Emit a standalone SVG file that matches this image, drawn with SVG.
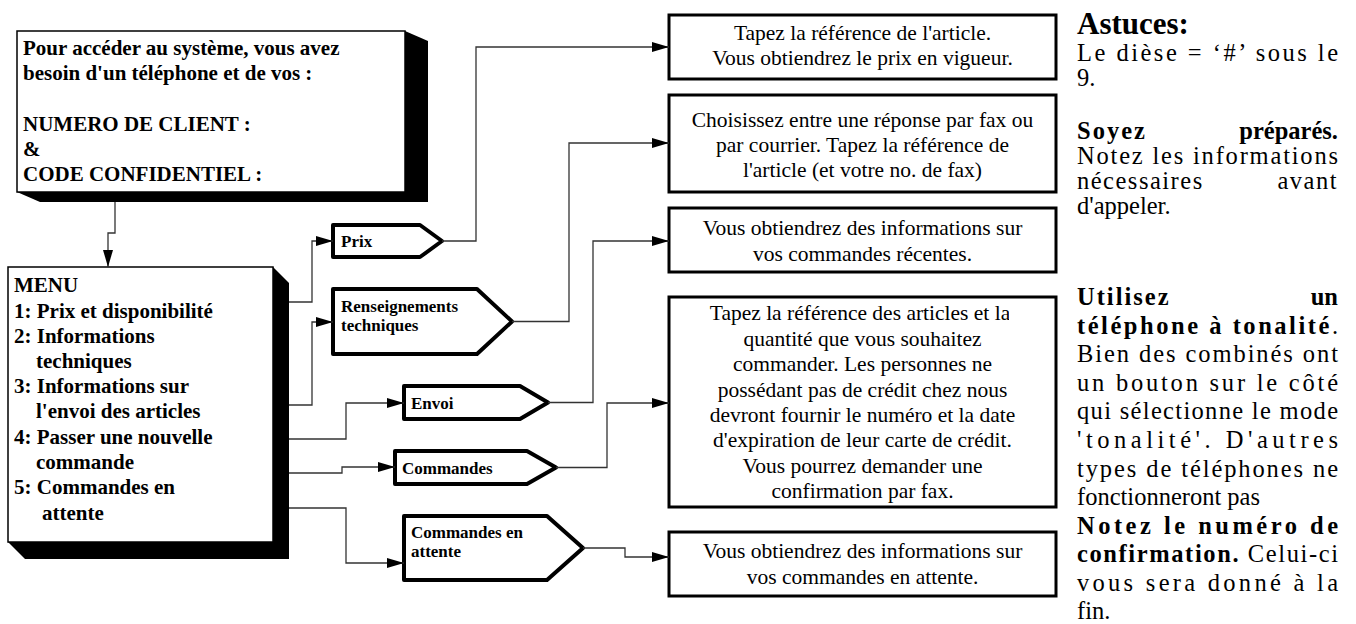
<svg xmlns="http://www.w3.org/2000/svg" width="1356" height="624" viewBox="0 0 1356 624">
<style>
.bg{fill:#fff}
.sh{fill:#000}
.nb{fill:#fff;stroke:#000;stroke-width:1.5}
.pt{fill:#fff;stroke:#000;stroke-width:4;stroke-linejoin:round}
.bx{fill:#fff;stroke:#000;stroke-width:3}
.b{font-family:"Liberation Serif","Times New Roman",serif;font-weight:bold;fill:#000}
.r{font-family:"Liberation Serif","Times New Roman",serif;fill:#000}
.big{font-size:21px}
.lab{font-size:17px}
.bt{font-size:21.5px;text-anchor:middle}
.tp{font-size:24.5px}
.cn{fill:none;stroke:#333;stroke-width:1.3}
</style>
<defs>
<marker id="arr" markerUnits="userSpaceOnUse" markerWidth="17" markerHeight="10" refX="17" refY="5" orient="auto">
<path d="M0,0 L17,5 L0,10 Z" fill="#000"/>
</marker>
<clipPath id="clip4"><rect x="669" y="297" width="340" height="210"/></clipPath>
</defs>
<rect class="bg" x="0" y="0" width="1356" height="624"/>

<g id="access">
<polygon class="sh" points="405,31 428,41 428,202 40,202 17,192"/>
<rect class="nb" x="17" y="31" width="388" height="161"/>
<text class="b big" x="23" y="55">Pour accéder au système, vous avez</text>
<text class="b big" x="23" y="80">besoin d'un téléphone et de vos :</text>
<text class="b big" x="23" y="131">NUMERO DE CLIENT :</text>
<text class="b big" x="23" y="156">&amp;</text>
<text class="b big" x="23" y="181">CODE CONFIDENTIEL :</text>
</g>

<g id="menu">
<polygon class="sh" points="273,267 289,283 289,559 25,559 8,542"/>
<rect class="nb" x="8" y="267" width="265" height="275"/>
<text class="b big" x="14" y="292">MENU</text>
<text class="b big" x="14" y="318">1: Prix et disponibilité</text>
<text class="b big" x="14" y="343">2: Informations</text>
<text class="b big" x="36" y="368">techniques</text>
<text class="b big" x="14" y="393">3: Informations sur</text>
<text class="b big" x="36" y="418">l'envoi des articles</text>
<text class="b big" x="14" y="444">4: Passer une nouvelle</text>
<text class="b big" x="36" y="469">commande</text>
<text class="b big" x="14" y="494">5: Commandes en</text>
<text class="b big" x="42" y="520">attente</text>
</g>

<g id="prix">
<path class="pt" d="M333,225 H420 L442,241 L420,257 H333 Z"/>
<text class="b lab" x="341" y="247">Prix</text>
</g>
<g id="renseignements">
<path class="pt" d="M333,289 H477 L512,321.5 L477,354 H333 Z"/>
<text class="b lab" x="341" y="312">Renseignements</text>
<text class="b lab" x="341" y="331">techniques</text>
</g>
<g id="envoi">
<path class="pt" d="M404,386 H520 L548,402.5 L520,419 H404 Z"/>
<text class="b lab" x="411" y="409">Envoi</text>
</g>
<g id="commandes">
<path class="pt" d="M395,451 H527 L556,467.5 L527,484 H395 Z"/>
<text class="b lab" x="402" y="474">Commandes</text>
</g>
<g id="attente">
<path class="pt" d="M404,516 H547 L583,548 L547,580 H404 Z"/>
<text class="b lab" x="411" y="538">Commandes en</text>
<text class="b lab" x="411" y="557">attente</text>
</g>

<g id="box1">
<rect class="bx" x="669" y="15" width="387" height="64"/>
<text class="r bt" x="862.5" y="40">Tapez la référence de l'article.</text>
<text class="r bt" x="862.5" y="65">Vous obtiendrez le prix en vigueur.</text>
</g>
<g id="box2">
<rect class="bx" x="669" y="95" width="387" height="97"/>
<text class="r bt" x="862.5" y="127">Choisissez entre une réponse par fax ou</text>
<text class="r bt" x="862.5" y="152">par courrier. Tapez la référence de</text>
<text class="r bt" x="862.5" y="177">l'article (et votre no. de fax)</text>
</g>
<g id="box3">
<rect class="bx" x="669" y="208" width="387" height="64"/>
<text class="r bt" x="862.5" y="235">Vous obtiendrez des informations sur</text>
<text class="r bt" x="862.5" y="261">vos commandes récentes.</text>
</g>
<g id="box4">
<rect class="bx" x="669" y="297" width="387" height="210"/>
<g clip-path="url(#clip4)">
<text class="r bt" x="860" y="320">Tapez la référence des articles et la</text>
</g>
<text class="r bt" x="862.5" y="346">quantité que vous souhaitez</text>
<text class="r bt" x="862.5" y="371">commander. Les personnes ne</text>
<text class="r bt" x="862.5" y="397">possédant pas de crédit chez nous</text>
<text class="r bt" x="862.5" y="422">devront fournir le numéro et la date</text>
<text class="r bt" x="862.5" y="447">d'expiration de leur carte de crédit.</text>
<text class="r bt" x="862.5" y="473">Vous pourrez demander une</text>
<text class="r bt" x="862.5" y="498">confirmation par fax.</text>
</g>
<g id="box5">
<rect class="bx" x="669" y="532" width="387" height="64"/>
<text class="r bt" x="862.5" y="558">Vous obtiendrez des informations sur</text>
<text class="r bt" x="862.5" y="584">vos commandes en attente.</text>
</g>

<g id="connectors">
<path class="cn" d="M115,202 V233 H108 V267" marker-end="url(#arr)"/>
<path class="cn" d="M289,302 H312 V241 H333" marker-end="url(#arr)"/>
<path class="cn" d="M289,405 H312 V322 H333" marker-end="url(#arr)"/>
<path class="cn" d="M289,439 H346 V403 H404" marker-end="url(#arr)"/>
<path class="cn" d="M289,473 H342 V467 H395" marker-end="url(#arr)"/>
<path class="cn" d="M289,508 H346 V563 H404" marker-end="url(#arr)"/>
<path class="cn" d="M442,241 H476 V47 H669" marker-end="url(#arr)"/>
<path class="cn" d="M512,321.5 H569 V143 H669" marker-end="url(#arr)"/>
<path class="cn" d="M548,402.5 H593 V241 H669" marker-end="url(#arr)"/>
<path class="cn" d="M556,467.5 H607 V403 H669" marker-end="url(#arr)"/>
<path class="cn" d="M583,548 H625 V557 H669" marker-end="url(#arr)"/>
</g>

<g id="tips">
<text class="b" x="1077" y="34" font-size="31">Astuces:</text>
<text class="r tp" x="1077" y="61" textLength="261" lengthAdjust="spacing">Le dièse = ‘#’ sous le</text>
<text class="r tp" x="1077" y="86">9.</text>
<text class="b tp" x="1077" y="139" letter-spacing="2">Soyez</text>
<text class="b tp" x="1338" y="139" text-anchor="end">préparés.</text>
<text class="r tp" x="1077" y="164" textLength="261" lengthAdjust="spacing">Notez les informations</text>
<text class="r tp" x="1077" y="189" letter-spacing="1.5">nécessaires</text>
<text class="r tp" x="1338" y="189" text-anchor="end" letter-spacing="1.5">avant</text>
<text class="r tp" x="1077" y="214">d'appeler.</text>
<text class="b tp" x="1077" y="305" letter-spacing="2">Utilisez</text>
<text class="b tp" x="1338" y="305" text-anchor="end">un</text>
<text class="r tp" x="1077" y="334" textLength="261" lengthAdjust="spacing"><tspan class="b">téléphone à tonalité</tspan>.</text>
<text class="r tp" x="1077" y="362" textLength="261" lengthAdjust="spacing">Bien des combinés ont</text>
<text class="r tp" x="1077" y="391" textLength="261" lengthAdjust="spacing">un bouton sur le côté</text>
<text class="r tp" x="1077" y="419" textLength="261" lengthAdjust="spacing">qui sélectionne le mode</text>
<text class="r tp" x="1077" y="448" textLength="261" lengthAdjust="spacing">'tonalité'.  D'autres</text>
<text class="r tp" x="1077" y="477" textLength="261" lengthAdjust="spacing">types de téléphones ne</text>
<text class="r tp" x="1077" y="505">fonctionneront pas</text>
<text class="b tp" x="1077" y="534" textLength="261" lengthAdjust="spacing">Notez le numéro de</text>
<text class="r tp" x="1077" y="562" textLength="261" lengthAdjust="spacing"><tspan class="b">confirmation.</tspan> Celui-ci</text>
<text class="r tp" x="1077" y="591" textLength="261" lengthAdjust="spacing">vous sera donné à la</text>
<text class="r tp" x="1077" y="619">fin.</text>
</g>
</svg>
